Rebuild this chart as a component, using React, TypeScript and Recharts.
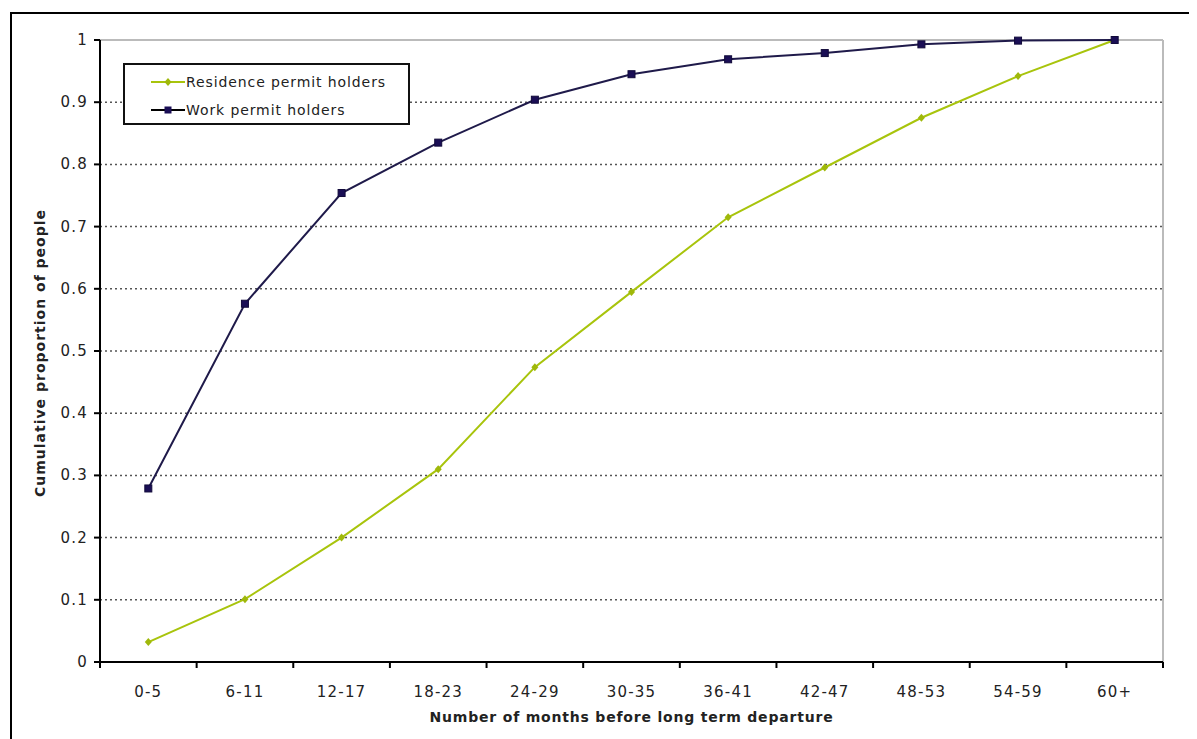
import {
  LineChart,
  Line,
  XAxis,
  YAxis,
  CartesianGrid,
  Label,
} from "recharts";

const categories = [
  "0-5",
  "6-11",
  "12-17",
  "18-23",
  "24-29",
  "30-35",
  "36-41",
  "42-47",
  "48-53",
  "54-59",
  "60+",
];

const residence = [0.032, 0.101, 0.2, 0.31, 0.474, 0.595, 0.715, 0.795, 0.875, 0.942, 1.0];
const work = [0.279, 0.576, 0.754, 0.835, 0.904, 0.945, 0.969, 0.979, 0.993, 0.999, 1.0];

const yTicks = [0, 0.1, 0.2, 0.3, 0.4, 0.5, 0.6, 0.7, 0.8, 0.9, 1];

const seriesNames = ["Residence permit holders", "Work permit holders"];

const RES_COLOR = "#a8c40c";
const WORK_COLOR = "#1f1a4a";
const FONT = "'DejaVu Sans', Verdana, sans-serif";

const W = 1189;
const H = 731;
const MARGIN = { top: 32, right: 34, left: 32, bottom: 47 };
const Y_AXIS_W = 60;
const PLOT_W = W - MARGIN.left - MARGIN.right - Y_AXIS_W;
const BAND = PLOT_W / categories.length;

const data = categories.map((c, i) => ({
  name: c,
  residence: residence[i],
  work: work[i],
}));

// tick marks sit on the band edges, labels in the band middle
function XTick(props: any) {
  const { x, y, payload, index } = props;
  const last = index === categories.length - 1;
  return (
    <g>
      <line x1={x - BAND / 2} x2={x - BAND / 2} y1={y} y2={y + 6} stroke="#000" strokeWidth={2} />
      {last && (
        <line x1={x + BAND / 2} x2={x + BAND / 2} y1={y} y2={y + 6} stroke="#000" strokeWidth={2} />
      )}
      <text
        x={x}
        y={y + 30}
        textAnchor="middle"
        dominantBaseline="central"
        fontSize={15}
        letterSpacing={1.2}
        fill="#222"
        fontFamily={FONT}
      >
        {payload.value}
      </text>
    </g>
  );
}

function YTick(props: any) {
  const { x, y, payload } = props;
  return (
    <g>
      <line x1={x - 6} x2={x} y1={y} y2={y} stroke="#000" strokeWidth={2} />
      <text
        x={x - 12}
        y={y}
        textAnchor="end"
        dominantBaseline="central"
        fontSize={15}
        letterSpacing={1.2}
        fill="#222"
        fontFamily={FONT}
      >
        {payload.value}
      </text>
    </g>
  );
}

function Square(props: any) {
  const { cx, cy } = props;
  if (cx == null || cy == null) return null;
  return <rect x={cx - 3.5} y={cy - 3.5} width={7} height={7} fill="#1a0e55" stroke="#110a3a" strokeWidth={1} />;
}

function Diamond(props: any) {
  const { cx, cy } = props;
  if (cx == null || cy == null) return null;
  return (
    <path
      d={`M${cx},${cy - 4} L${cx + 3.5},${cy} L${cx},${cy + 4} L${cx - 3.5},${cy} Z`}
      fill="#9fb80a"
    />
  );
}

function LegendBox() {
  const items = [
    { label: seriesNames[0], color: RES_COLOR, marker: "diamond" },
    { label: seriesNames[1], color: "#000", marker: "square" },
  ];
  return (
    <div
      style={{
        position: "absolute",
        left: 115,
        top: 55,
        width: 283,
        height: 58,
        border: "2px solid #111",
        background: "#fff",
        fontFamily: FONT,
        fontSize: 14,
        color: "#222",
      }}
    >
      {items.map((it, i) => (
        <div
          key={it.label}
          style={{ display: "flex", alignItems: "center", height: 28, marginTop: i === 0 ? 3 : 0 }}
        >
          <svg width={61} height={12}>
            <line x1={26} x2={60} y1={6} y2={6} stroke={it.color} strokeWidth={2} />
            {it.marker === "square" ? (
              <rect x={39.5} y={2.5} width={7} height={7} fill="#1a0e55" />
            ) : (
              <path d="M43,2 L46.5,6 L43,10 L39.5,6 Z" fill="#9fb80a" />
            )}
          </svg>
          <span style={{ letterSpacing: 0.9 }}>{it.label}</span>
        </div>
      ))}
    </div>
  );
}

export default function App() {
  return (
    <div style={{ position: "relative", width: W, height: H, overflow: "hidden" }}>
      <div
        style={{
          position: "absolute",
          left: 2,
          top: 4,
          width: 1400,
          height: 1000,
          border: "2px solid #000",
        }}
      />
      <div style={{ position: "absolute", left: 0, top: 0 }}>
        <LineChart width={W} height={H} data={data} margin={MARGIN}>
          <CartesianGrid
            vertical={false}
            stroke="#555"
            strokeDasharray="2 3"
            strokeWidth={1.5}
          />
          <CartesianGrid
            horizontalPoints={[MARGIN.top]}
            verticalPoints={[W - MARGIN.right]}
            stroke="#bbb"
            strokeWidth={2}
          />
          <XAxis
            dataKey="name"
            scale="band"
            stroke="#000"
            strokeWidth={2}
            tickLine={false}
            tickSize={0}
            tickMargin={0}
            tick={<XTick />}
            height={30}
            interval={0}
          >
            <Label
              content={() => (
                <text
                  x={MARGIN.left + Y_AXIS_W + PLOT_W / 2}
                  y={709}
                  textAnchor="middle"
                  dominantBaseline="central"
                  fontSize={14}
                  fontWeight="bold"
                  letterSpacing={0.8}
                  fill="#222"
                  fontFamily={FONT}
                >
                  Number of months before long term departure
                </text>
              )}
            />
          </XAxis>
          <YAxis
            domain={[0, 1]}
            ticks={yTicks}
            width={Y_AXIS_W}
            stroke="#000"
            strokeWidth={2}
            tickLine={false}
            tickSize={0}
            tickMargin={0}
            tick={<YTick />}
            interval={0}
          >
            <Label
              content={() => (
                <text
                  x={32}
                  y={345}
                  transform={`rotate(-90, 32, 345)`}
                  textAnchor="middle"
                  dominantBaseline="central"
                  fontSize={14}
                  fontWeight="bold"
                  letterSpacing={1}
                  fill="#222"
                  fontFamily={FONT}
                >
                  Cumulative proportion of people
                </text>
              )}
            />
          </YAxis>
          <Line
            type="linear"
            dataKey="residence"
            name={seriesNames[0]}
            stroke={RES_COLOR}
            strokeWidth={2}
            dot={<Diamond />}
            activeDot={false}
            isAnimationActive={false}
          />
          <Line
            type="linear"
            dataKey="work"
            name={seriesNames[1]}
            stroke={WORK_COLOR}
            strokeWidth={2}
            dot={<Square />}
            activeDot={false}
            isAnimationActive={false}
          />
        </LineChart>
      </div>
      <LegendBox />
    </div>
  );
}
